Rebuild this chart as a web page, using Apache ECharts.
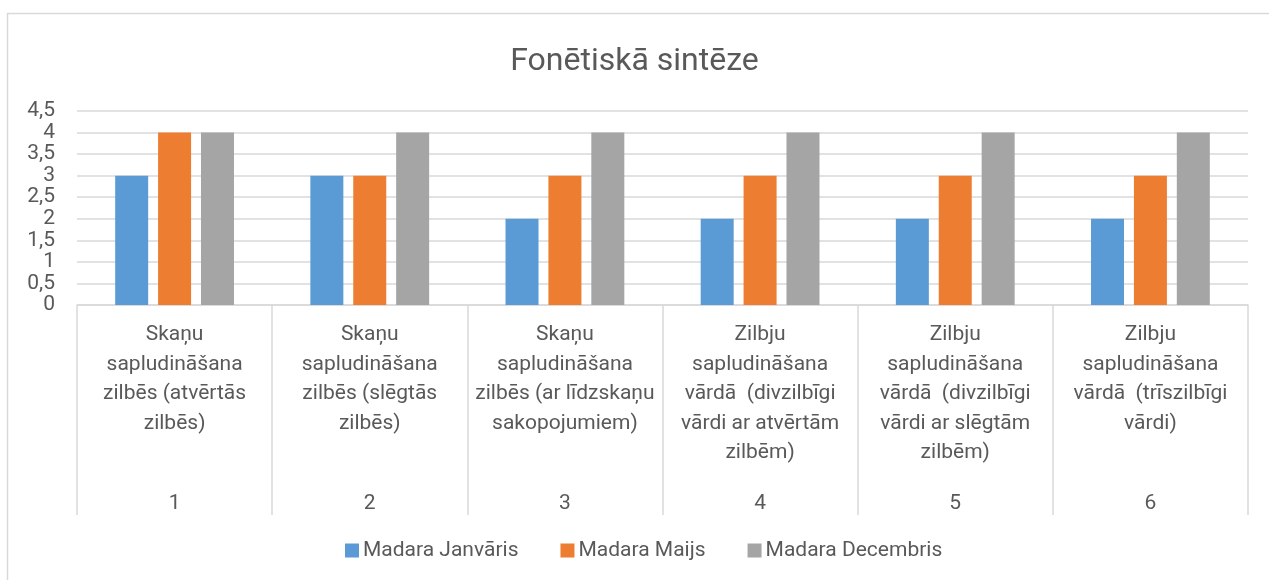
<!DOCTYPE html>
<html>
<head>
<meta charset="utf-8">
<script src="https://cdn.jsdelivr.net/npm/echarts@6/dist/echarts.min.js"></script>
<style>
  html, body { margin: 0; padding: 0; background: #fff; }
  #chart { width: 1269px; height: 580px; }
</style>
</head>
<body>
<div id="chart"></div>
<script>
var categories = [
  'Skaņu\nsapludināšana\nzilbēs (atvērtās\nzilbēs)',
  'Skaņu\nsapludināšana\nzilbēs (slēgtās\nzilbēs)',
  'Skaņu\nsapludināšana\nzilbēs (ar līdzskaņu\nsakopojumiem)',
  'Zilbju\nsapludināšana\nvārdā  (divzilbīgi\nvārdi ar atvērtām\nzilbēm)',
  'Zilbju\nsapludināšana\nvārdā  (divzilbīgi\nvārdi ar slēgtām\nzilbēm)',
  'Zilbju\nsapludināšana\nvārdā  (trīszilbīgi\nvārdi)'
];
var numbers = ['1', '2', '3', '4', '5', '6'];
var seriesNames = ['Madara Janvāris', 'Madara Maijs', 'Madara Decembris'];
var janvaris = [3, 3, 2, 2, 2, 2];
var maijs = [4, 3, 3, 3, 3, 3];
var decembris = [4, 4, 4, 4, 4, 4];

var font = 'Roboto, "Noto Sans", sans-serif';
var textColor = '#595959';
var lineColor = '#d9d9d9';

var myChart = echarts.init(document.getElementById('chart'));
var option = {
    animation: false,
    color: ['#5b9bd5', '#ed7d31', '#a5a5a5'],
    title: {
        text: 'Fonētiskā sintēze',
        left: 'center',
        top: 46,
        padding: 0,
        textStyle: { fontFamily: font, fontSize: 32, fontWeight: 'normal', color: textColor }
    },
    graphic: [{
        type: 'rect',
        shape: { x: 7.5, y: 13.5, width: 1300, height: 600 },
        style: { fill: 'none', stroke: lineColor, lineWidth: 1.5 },
        silent: true
    }],
    legend: {
        top: 540,
        left: 345,
        padding: 0,
        itemWidth: 14,
        itemHeight: 14,
        itemGap: 42,
        icon: 'rect',
        textStyle: { fontFamily: font, fontSize: 21, color: textColor, padding: [0, 0, 0, -1] },
        data: seriesNames
    },
    grid: {
        left: 77,
        right: 21,
        top: 111,
        bottom: 275
    },
    xAxis: [{
        type: 'category',
        data: categories,
        axisLine: { show: true, lineStyle: { color: lineColor, width: 1.5 } },
        axisTick: { show: true, length: 210, lineStyle: { color: lineColor, width: 1.5 } },
        axisLabel: {
            interval: 0,
            margin: 15,
            fontFamily: font,
            fontSize: 21,
            lineHeight: 29.5,
            color: textColor
        }
    }, {
        type: 'category',
        data: numbers,
        position: 'bottom',
        offset: 188,
        axisLine: { show: false },
        axisTick: { show: false },
        axisLabel: {
            interval: 0,
            margin: 0,
            fontFamily: font,
            fontSize: 21,
            lineHeight: 22,
            color: textColor
        }
    }],
    yAxis: {
        type: 'value',
        min: 0,
        max: 4.5,
        interval: 0.5,
        axisLine: { show: false },
        axisTick: { show: false },
        splitLine: { lineStyle: { color: lineColor, width: 1.5 } },
        axisLabel: {
            margin: 22,
            fontFamily: font,
            fontSize: 21,
            lineHeight: 16,
            hideOverlap: false,
            showMinLabel: true,
            showMaxLabel: true,
            color: textColor,
            formatter: function (v) { return String(v).replace('.', ','); }
        }
    },
    series: [{
        name: seriesNames[0],
        type: 'bar',
        barWidth: 33,
        barGap: '30%',
        data: janvaris
    }, {
        name: seriesNames[1],
        type: 'bar',
        barWidth: 33,
        barGap: '30%',
        data: maijs
    }, {
        name: seriesNames[2],
        type: 'bar',
        barWidth: 33,
        barGap: '30%',
        data: decembris
    }]
};
myChart.setOption(option);
</script>
</body>
</html>
